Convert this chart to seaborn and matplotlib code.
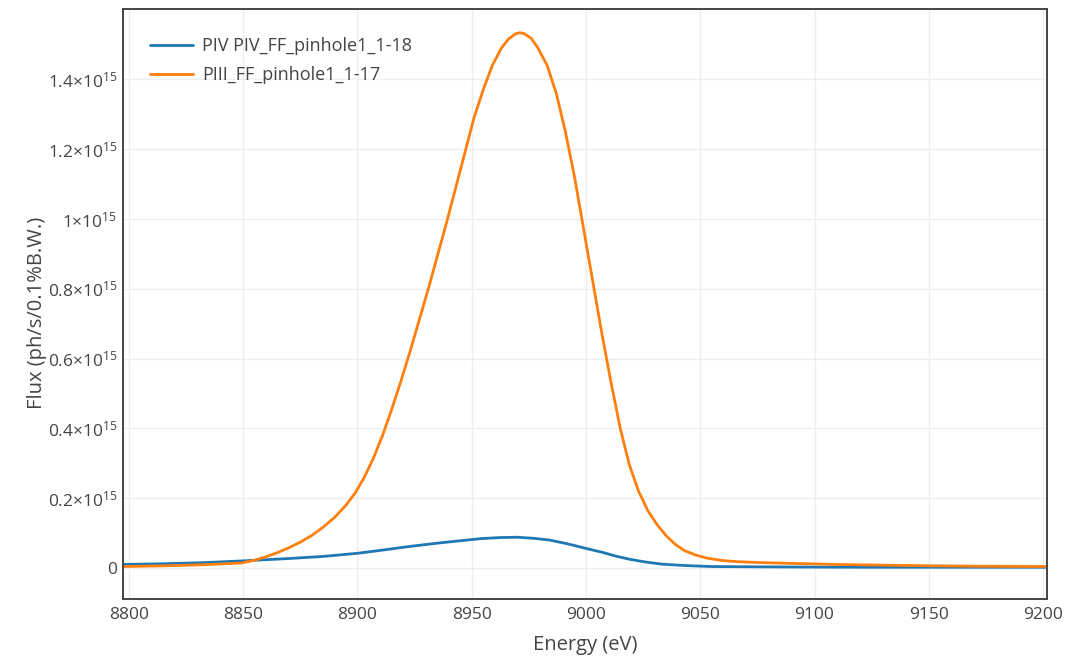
import numpy as np
import pandas as pd
import matplotlib
matplotlib.use("Agg")
import matplotlib.pyplot as plt
import seaborn as sns

# curve readings (energy in eV, flux in units of 1e15 ph/s/0.1%B.W.)
energy_piv = [8797, 8815, 8832, 8849, 8870, 8885, 8900, 8912, 8922, 8935,
              8945, 8954, 8962, 8970, 8977, 8984, 8992, 9000, 9007, 9013,
              9019, 9025, 9033, 9043, 9055, 9080, 9120, 9201]
flux_piv = [0.010, 0.012, 0.015, 0.020, 0.027, 0.033, 0.042, 0.052, 0.061, 0.071,
            0.078, 0.084, 0.087, 0.088, 0.085, 0.080, 0.069, 0.056, 0.045, 0.034,
            0.025, 0.018, 0.011, 0.007, 0.004, 0.003, 0.002, 0.002]

energy_piii = [8797, 8815, 8832, 8849, 8855, 8860, 8865, 8870, 8875, 8880,
               8885, 8890, 8895, 8899, 8903, 8907, 8911, 8915, 8919, 8923,
               8927, 8931, 8935, 8939, 8943, 8947, 8951, 8955, 8959, 8963,
               8966, 8969, 8971, 8973, 8976, 8979, 8983, 8987, 8991, 8995,
               8999, 9003, 9007, 9011, 9015, 9019, 9023, 9027, 9031, 9035,
               9039, 9043, 9048, 9053, 9060, 9066, 9078, 9090, 9110, 9140,
               9170, 9201]
flux_piii = [0.004, 0.006, 0.009, 0.014, 0.022, 0.032, 0.044, 0.058, 0.074, 0.093,
             0.117, 0.145, 0.180, 0.215, 0.26, 0.315, 0.38, 0.455, 0.535, 0.62,
             0.71, 0.80, 0.895, 0.99, 1.09, 1.19, 1.29, 1.37, 1.44, 1.49,
             1.515, 1.530, 1.534, 1.531, 1.518, 1.49, 1.44, 1.36, 1.25, 1.12,
             0.97, 0.82, 0.67, 0.53, 0.40, 0.295, 0.22, 0.165, 0.125, 0.093,
             0.068, 0.050, 0.037, 0.028, 0.021, 0.018, 0.015, 0.013, 0.010, 0.007,
             0.005, 0.004]

labels = ["PIV PIV_FF_pinhole1_1-18", "PIII_FF_pinhole1_1-17"]
colors = ["#1f77b4", "#ff7f0e"]

y_ticks = [0, 0.2, 0.4, 0.6, 0.8, 1.0, 1.2, 1.4]
y_ticklabels = ["0", "0.2×10$^{15}$", "0.4×10$^{15}$", "0.6×10$^{15}$",
                "0.8×10$^{15}$", "1×10$^{15}$", "1.2×10$^{15}$", "1.4×10$^{15}$"]
x_ticks = [8800, 8850, 8900, 8950, 9000, 9050, 9100, 9150, 9200]

df = pd.concat([
    pd.DataFrame({"Energy": energy_piv, "Flux": np.array(flux_piv) * 1e15, "series": labels[0]}),
    pd.DataFrame({"Energy": energy_piii, "Flux": np.array(flux_piii) * 1e15, "series": labels[1]}),
])

sns.set_style("white")
plt.rcParams["font.family"] = ["Open Sans", "DejaVu Sans"]
plt.rcParams["mathtext.fontset"] = "custom"
plt.rcParams["mathtext.rm"] = "Open Sans"
plt.rcParams["mathtext.default"] = "regular"

fig = plt.figure(figsize=(10.89, 6.57), dpi=100)
ax = fig.add_axes([123 / 1089, 58 / 657, 923.7 / 1089, 589.7 / 657])

sns.lineplot(data=df, x="Energy", y="Flux", hue="series", palette=colors,
             hue_order=labels, estimator=None, sort=True, linewidth=2.0, ax=ax)

ax.set_xlim(8797.4, 9201.6)
ax.set_ylim(-0.089e15, 1.601e15)
ax.set_xticks(x_ticks)
ax.set_yticks([v * 1e15 for v in y_ticks])
ax.set_yticklabels(y_ticklabels)

ax.grid(True, color="#eeeeee", linewidth=1.0)
for s in ax.spines.values():
    s.set_color("#444444")
    s.set_linewidth(1.4)
    s.set_visible(True)

ax.tick_params(axis="both", direction="in", length=5, width=1.2, color="#444444",
               labelcolor="#444444", labelsize=12.5)
ax.tick_params(axis="x", pad=6)
ax.tick_params(axis="y", pad=4)

ax.set_xlabel("Energy (eV)", fontsize=14.5, color="#444444", va="center")
ax.set_ylabel("Flux (ph/s/0.1%B.W.)", fontsize=14.5, color="#444444", va="center")
ax.xaxis.set_label_coords(0.5, -0.078)
ax.yaxis.set_label_coords(-0.093, 0.485)

ax.legend(loc="upper left", bbox_to_anchor=(0.029, 0.953), frameon=False,
          fontsize=13, handlelength=2.4, handletextpad=0.5, labelspacing=0.6,
          borderaxespad=0, borderpad=0, labelcolor="#444444")

fig.savefig("out.png", dpi=100)
